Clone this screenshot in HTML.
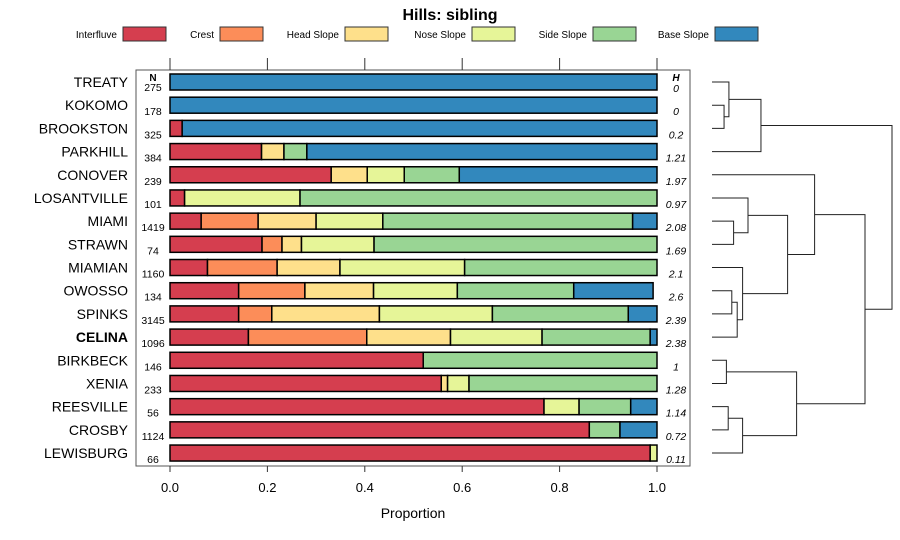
<!DOCTYPE html>
<html><head><meta charset="utf-8">
<style>
body{margin:0;background:#fff;}
svg{display:block;font-family:"Liberation Sans",sans-serif;}
</style></head>
<body>
<svg id="chart" width="900" height="540" viewBox="0 0 900 540">
<text x="450" y="20" text-anchor="middle" font-size="16" font-weight="bold">Hills: sibling</text>
<g id="legend"></g>
<rect x="136" y="70" width="554" height="396" fill="none" stroke="#555" stroke-width="1"/>
<g id="axes"></g>
<g id="bars"></g>
<g id="dendro"></g>
<text x="413" y="518" text-anchor="middle" font-size="14">Proportion</text>
</svg>
<script>
const classes = ["Interfluve","Crest","Head Slope","Nose Slope","Side Slope","Base Slope"];
const colors = ["#D53E4F","#FC8D59","#FEE08B","#E6F598","#99D594","#3288BD"];
const series = ["TREATY","KOKOMO","BROOKSTON","PARKHILL","CONOVER","LOSANTVILLE","MIAMI","STRAWN","MIAMIAN","OWOSSO","SPINKS","CELINA","BIRKBECK","XENIA","REESVILLE","CROSBY","LEWISBURG"];
const nValues = [275,178,325,384,239,101,1419,74,1160,134,3145,1096,146,233,56,1124,66];
const hValues = ["0","0","0.2","1.21","1.97","0.97","2.08","1.69","2.1","2.6","2.39","2.38","1","1.28","1.14","0.72","0.11"];
const interfluve = [0,0,0.025,0.188,0.331,0.030,0.064,0.189,0.077,0.141,0.141,0.161,0.520,0.557,0.768,0.861,0.986];
const crest =      [0,0,0,0,0,0,0.117,0.041,0.143,0.136,0.068,0.243,0,0,0,0,0];
const headSlope =  [0,0,0,0.046,0.074,0,0.119,0.040,0.129,0.141,0.221,0.172,0,0.013,0,0,0];
const noseSlope =  [0,0,0,0,0.076,0.237,0.137,0.149,0.256,0.172,0.232,0.188,0,0.044,0.072,0,0.014];
const sideSlope =  [0,0,0,0.047,0.113,0.733,0.513,0.581,0.395,0.239,0.279,0.222,0.480,0.386,0.106,0.063,0];
const baseSlope =  [1,1,0.975,0.719,0.406,0,0.050,0,0,0.163,0.059,0.014,0,0,0.054,0.076,0];
const xTicks = [0,0.2,0.4,0.6,0.8,1.0];
const xTickLabels = ["0.0","0.2","0.4","0.6","0.8","1.0"];
// dendrogram merges: [left, right, height]; negative = leaf index (-(i+1)), positive = merge index (1-based)
const merges = [
 [-2,-3,0.067],[-1,1,0.094],[-4,2,0.272],
 [-7,-8,0.12],[-6,4,0.20],
 [-10,-11,0.11],[-12,6,0.14],[-9,7,0.17],
 [5,8,0.42],[-5,9,0.57],
 [-13,-14,0.08],[-15,-16,0.09],[-17,12,0.17],[11,13,0.47],
 [10,14,0.85],[3,15,1.0]
];
const NS="http://www.w3.org/2000/svg";
function el(tag,attrs,parent){const e=document.createElementNS(NS,tag);for(const k in attrs)e.setAttribute(k,attrs[k]);parent.appendChild(e);return e;}
const x = v => 170 + v*487;
const y = i => 82 + i*23.19;
const bh = 16;
const leg=document.getElementById('legend');
const legBox=[123,220,345,472,593,715];
classes.forEach((c,i)=>{
  const t=el('text',{x:legBox[i]-6,y:38,'text-anchor':'end','font-size':10},leg);
  t.textContent=c;
  
  
  const r=el('rect',{x:legBox[i],y:27,width:43,height:14,fill:colors[i],stroke:'#333','stroke-width':1},leg);
  
  
});
const ax=document.getElementById('axes');
xTicks.forEach((v,i)=>{
  const tb=el('line',{x1:x(v),x2:x(v),y1:466,y2:472,stroke:'#333'},ax);
  
  
  const tt=el('line',{x1:x(v),x2:x(v),y1:58,y2:70,stroke:'#333'},ax);
  
  
  const l=el('text',{x:x(v),y:492,'text-anchor':'middle','font-size':13},ax);
  l.textContent=xTickLabels[i];
  
  
});
const hn=el('text',{x:153,y:81,'text-anchor':'middle','font-size':10,'font-weight':'bold'},ax);hn.textContent='N';


const hh=el('text',{x:676,y:81,'text-anchor':'middle','font-size':10,'font-weight':'bold','font-style':'italic'},ax);hh.textContent='H';


const bars=document.getElementById('bars');
const cols=[interfluve,crest,headSlope,noseSlope,sideSlope,baseSlope];
series.forEach((s,i)=>{
  const cy=y(i);
  const lab=el('text',{x:128,y:cy+5,'text-anchor':'end','font-size':14},bars);
  lab.textContent=s;
  if(s==='CELINA')lab.setAttribute('font-weight','bold');
  
  
  const n=el('text',{x:153,y:cy+(i===0?9:10),'text-anchor':'middle','font-size':10.5},bars);
  n.textContent=nValues[i];
  
  
  const h=el('text',{x:676,y:cy+10,'text-anchor':'middle','font-size':10.5,'font-style':'italic'},bars);
  h.textContent=hValues[i];
  
  
  let acc=0;
  cols.forEach((arr,k)=>{
    const v=arr[i]; if(v<=0)return;
    const r=el('rect',{x:x(acc),y:cy-bh/2,width:x(acc+v)-x(acc),height:bh,fill:colors[k],stroke:'#000','stroke-width':1.5},bars);
    
    
    acc+=v;
  });
});
const dg=document.getElementById('dendro');
const dx = hgt => 712 + hgt*180;
const pos=[];
function nodePos(id){ if(id<0) return {x:712,y:y(-id-1)}; return pos[id-1]; }
merges.forEach((m)=>{
  const a=nodePos(m[0]), b=nodePos(m[1]), hx=dx(m[2]);
  const p=el('path',{d:`M${a.x},${a.y}H${hx}V${b.y}H${b.x}`,fill:'none',stroke:'#222','stroke-width':1},dg);
  
  
  pos.push({x:hx,y:(a.y+b.y)/2});
});
</script>
</body></html>
